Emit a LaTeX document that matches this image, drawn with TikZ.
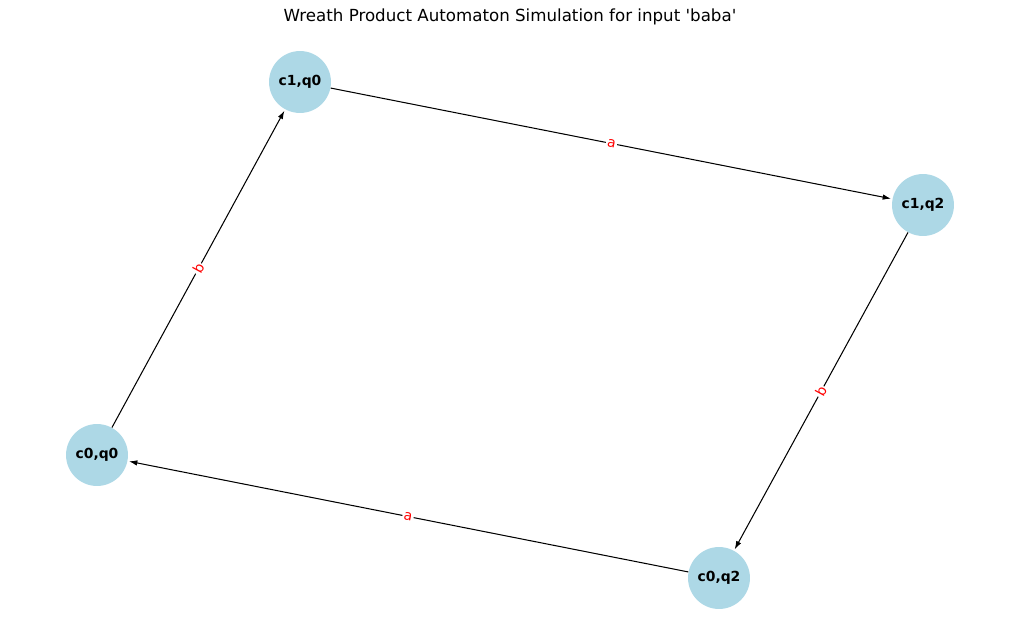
\documentclass[tikz,border=0pt]{standalone}
\usepackage{fontspec}
\setmainfont{DejaVu Sans}
\newfontfamily\plainfont{DejaVu Sans}
\usetikzlibrary{arrows.meta}
\definecolor{nodeblue}{HTML}{ADD8E6}
\begin{document}
\begin{tikzpicture}[x=0.72pt,y=-0.72pt,
  state/.style={circle,fill=nodeblue,minimum size=44.6pt,inner sep=0pt,font=\bfseries\fontsize{10}{12}\selectfont},
  edge/.style={-{Latex[length=6pt,width=4pt]},line width=0.75pt,shorten >=1pt},
  elabel/.style={fill=white,inner sep=1pt,text=red,font=\fontsize{10}{12}\selectfont,sloped,midway}]
\useasboundingbox (0,0) rectangle (1019,640);
\node[font=\plainfont\fontsize{12}{14}\selectfont] (title) at (510,17) {Wreath Product Automaton Simulation for input 'baba'};
\node[state] (c1q0) at (300,82) {c1,q0};
\node[state] (c1q2) at (923,205) {c1,q2};
\node[state] (c0q0) at (97,455) {c0,q0};
\node[state] (c0q2) at (719,578) {c0,q2};
\draw[edge] (c0q0) -- node[elabel] (lb1) {b} (c1q0);
\draw[edge] (c1q0) -- node[elabel] (la1) {a} (c1q2);
\draw[edge] (c1q2) -- node[elabel] (lb2) {b} (c0q2);
\draw[edge] (c0q2) -- node[elabel] (la2) {a} (c0q0);
\end{tikzpicture}
\end{document}
